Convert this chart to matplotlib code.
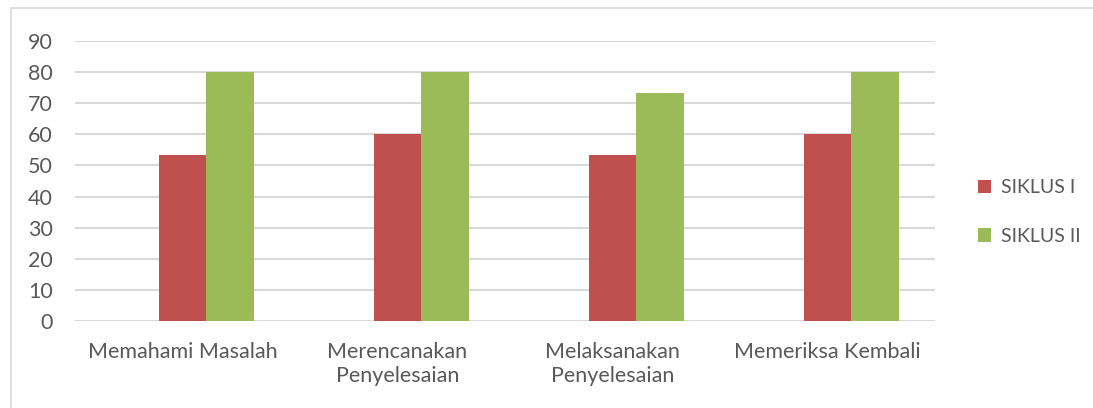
"""Grouped bar chart: SIKLUS I vs SIKLUS II per problem-solving step."""

import matplotlib

matplotlib.use("Agg")
import matplotlib.pyplot as plt  # noqa: E402
import numpy as np  # noqa: E402
from matplotlib.patches import Rectangle  # noqa: E402

categories = [
    "Memahami Masalah",
    "Merencanakan\nPenyelesaian",
    "Melaksanakan\nPenyelesaian",
    "Memeriksa Kembali",
]
siklus_0 = [np.nan, np.nan, np.nan, np.nan]  # empty first series in the source sheet
siklus_1 = [53.33, 60.0, 53.33, 60.0]
siklus_2 = [80.0, 80.0, 73.33, 80.0]
series_labels = ["SIKLUS I", "SIKLUS II"]
y_ticks = list(range(0, 100, 10))

RED = "#c0504d"
GREEN = "#9bbb59"
TEXT = "#595959"
GRID = "#d9d9d9"
FS = 15.5

plt.rcParams["font.family"] = ["Lato", "DejaVu Sans"]

W, H = 1093, 408
fig = plt.figure(figsize=(W / 100, H / 100), dpi=100)
ax = fig.add_axes([75 / W, 1 - 321 / H, (935 - 75) / W, (321 - 41) / H])

# chart border
fig.patches.append(
    Rectangle((11 / W, -0.1), 1.2, 1 - 8 / H + 0.1, transform=fig.transFigure,
              fill=False, edgecolor="#d9d9d9", lw=1.2)
)

x = np.arange(len(categories))
w = 1 / (3 + 1.5)
ax.bar(x - w, siklus_0, width=w, color="none")
ax.bar(x, siklus_1, width=w, color=RED, label=series_labels[0])
ax.bar(x + w, siklus_2, width=w, color=GREEN, label=series_labels[1])

ax.set_xlim(-0.5, len(categories) - 0.5)
ax.set_ylim(0, 90)
ax.set_yticks(y_ticks)
ax.set_yticklabels([str(t) for t in y_ticks], fontsize=FS, color=TEXT)
ax.set_xticks(x)
ax.set_xticklabels(categories, fontsize=FS, color=TEXT, linespacing=1.25, va="top")
ax.tick_params(axis="both", length=0)
ax.tick_params(axis="y", pad=16)
ax.tick_params(axis="x", pad=15)
ax.grid(True, axis="y", color=GRID, lw=1.5)
ax.set_axisbelow(True)
for s in ax.spines.values():
    s.set_visible(False)

ax.legend(loc="center left", bbox_to_anchor=(960 / W, 1 - 212 / H),
          bbox_transform=fig.transFigure, frameon=False, fontsize=14, labelcolor=TEXT,
          handlelength=0.7, handleheight=0.7, handletextpad=0.5, labelspacing=1.6)

fig.savefig("out.png", dpi=100)
